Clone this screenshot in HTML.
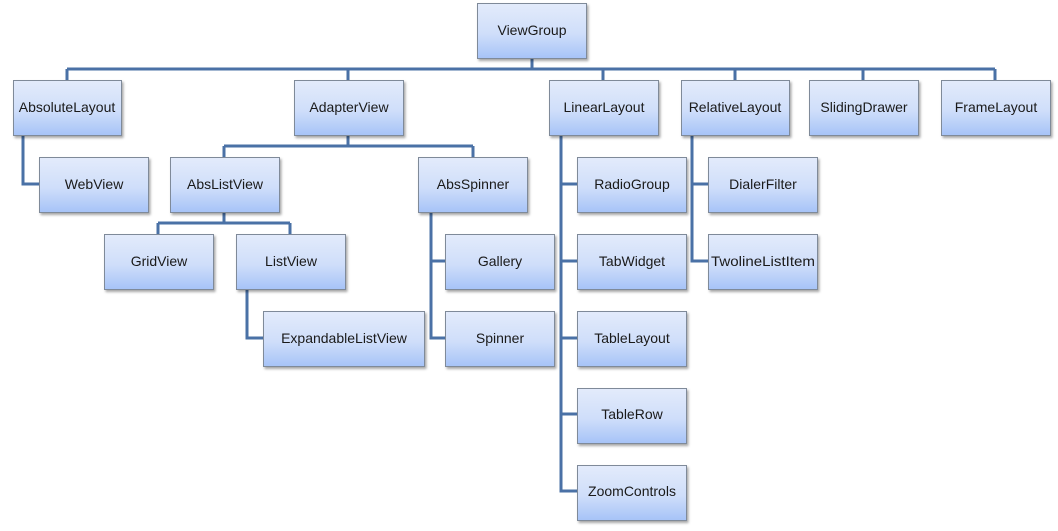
<!DOCTYPE html><html><head><style>body{margin:0;background:#fff}</style></head><body>
<svg width="1058" height="526" xmlns="http://www.w3.org/2000/svg" font-family="Liberation Sans, sans-serif">
<defs><linearGradient id="g" x1="0" y1="0" x2="0" y2="1"><stop offset="0" stop-color="#e3ebfb"/><stop offset="0.55" stop-color="#cfdefa"/><stop offset="1" stop-color="#a6c3f7"/></linearGradient>
<filter id="s" x="-10%" y="-10%" width="130%" height="140%"><feDropShadow dx="1.5" dy="2" stdDeviation="1.2" flood-color="#000" flood-opacity="0.35"/></filter></defs>
<g stroke="#4a71a6" stroke-width="3" fill="none">
<path d="M532 58V69M67 69H995M67 69V80M348 69V80M603 69V80M735 69V80M863 69V80M995 69V80"/>
<path d="M23 135V184H39"/>
<path d="M348 135V146M224 146H473M224 146V157M473 146V157"/>
<path d="M224 212V223M158 223H290M158 223V234M290 223V234"/>
<path d="M247 289V338H263"/>
<path d="M431 212V338H445M431 261H445"/>
<path d="M561 135V491H577M561 184H577M561 261H577M561 338H577M561 414H577"/>
<path d="M692 135V261H708M692 184H708"/>
</g>
<g stroke="#7f8a99" stroke-width="1" fill="url(#g)" filter="url(#s)">
<rect x="477.5" y="3.5" width="109" height="55"/>
<rect x="13.5" y="80.5" width="108" height="55"/>
<rect x="294.5" y="80.5" width="109" height="55"/>
<rect x="549.5" y="80.5" width="109" height="55"/>
<rect x="681.5" y="80.5" width="108" height="55"/>
<rect x="809.5" y="80.5" width="109" height="55"/>
<rect x="941.5" y="80.5" width="109" height="55"/>
<rect x="39.5" y="157.5" width="109" height="55"/>
<rect x="170.5" y="157.5" width="109" height="55"/>
<rect x="418.5" y="157.5" width="109" height="55"/>
<rect x="577.5" y="157.5" width="109" height="55"/>
<rect x="708.5" y="157.5" width="109" height="55"/>
<rect x="104.5" y="234.5" width="109" height="55"/>
<rect x="236.5" y="234.5" width="109" height="55"/>
<rect x="445.5" y="234.5" width="109" height="55"/>
<rect x="577.5" y="234.5" width="109" height="55"/>
<rect x="708.5" y="234.5" width="109" height="55"/>
<rect x="263.5" y="311.5" width="161" height="55"/>
<rect x="445.5" y="311.5" width="109" height="55"/>
<rect x="577.5" y="311.5" width="109" height="55"/>
<rect x="577.5" y="388.5" width="109" height="55"/>
<rect x="577.5" y="465.5" width="109" height="55"/>
</g>
<g font-size="14" fill="#1a1a1a" text-anchor="middle">
<text x="532" y="35">ViewGroup</text>
<text x="67" y="112">AbsoluteLayout</text>
<text x="349" y="112">AdapterView</text>
<text x="604" y="112">LinearLayout</text>
<text x="735" y="112">RelativeLayout</text>
<text x="864" y="112">SlidingDrawer</text>
<text x="996" y="112">FrameLayout</text>
<text x="94" y="189">WebView</text>
<text x="225" y="189">AbsListView</text>
<text x="473" y="189">AbsSpinner</text>
<text x="632" y="189">RadioGroup</text>
<text x="763" y="189">DialerFilter</text>
<text x="159" y="266">GridView</text>
<text x="291" y="266">ListView</text>
<text x="500" y="266">Gallery</text>
<text x="632" y="266">TabWidget</text>
<text x="763" y="266" textLength="104" lengthAdjust="spacingAndGlyphs">TwolineListItem</text>
<text x="344" y="343">ExpandableListView</text>
<text x="500" y="343">Spinner</text>
<text x="632" y="343">TableLayout</text>
<text x="632" y="419">TableRow</text>
<text x="632" y="496">ZoomControls</text>
</g>
</svg></body></html>
